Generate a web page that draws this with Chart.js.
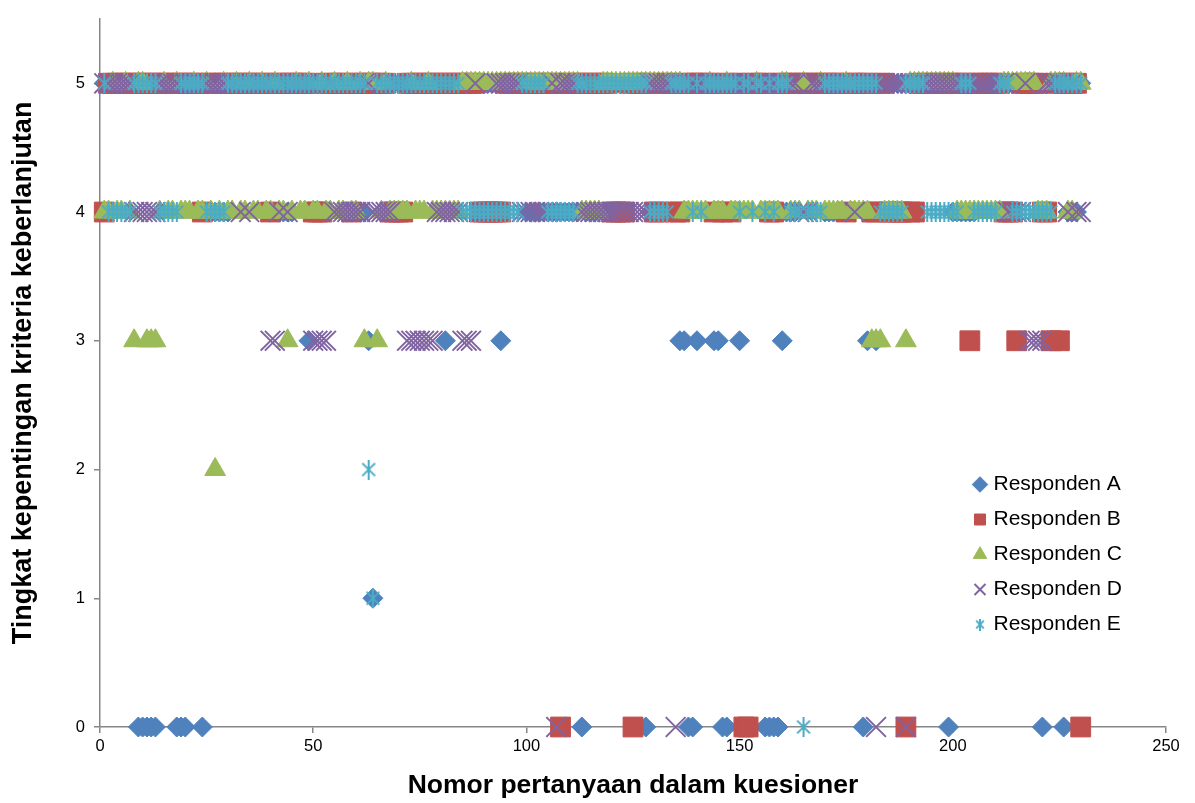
<!DOCTYPE html>
<html>
<head>
<meta charset="utf-8">
<script src="https://cdn.jsdelivr.net/npm/chart.js@4.4.1/dist/chart.umd.min.js"></script>
<style>
  html, body { margin: 0; padding: 0; background: #fff; }
  #wrap { width: 1195px; height: 803px; }
</style>
</head>
<body>
<div id="wrap"><canvas id="chart"></canvas></div>
<script>
// answer (0-5) of each respondent for questions 1..230, ten questions per group
const respondenA = [
  '5555555500', '0005555000', '5550444444', '5555555554', '4444455535',
  '5555555554', '4431544444', '5555555555', '3555555555', '5553555554',
  '4444444444', '4404445555', '5555555044', '4444433003', '5553300553',
  '5555500003', '4445555554', '4444455503', '5355555555', '5555555504',
  '4444455555', '5555555555', '0555504445'
];
const respondenB = [
  '4555555555', '5555555555', '5554555555', '5555555554', '5555555554',
  '4455555545', '5555555444', '4555555555', '5555555544', '4444555555',
  '5555555055', '5555555554', '4445055554', '4555445555', '5554545455',
  '0055554455', '5555555555', '5555455555', '4455444404', '4555555555',
  '5553555555', '5444355555', '4435355550'
];
const respondenC = [
  '4454454355', '3334544544', '4544542454', '4544544544', '5443454454',
  '4544544544', '5355345444', '4454445444', '4444555555', '5555555555',
  '5555555555', '5544444555', '5555555555', '5555554444', '4454445444',
  '4445444445', '5444544454', '4444544444', '3334444435', '5555555555',
  '4444444444', '4555555554', '4455554455'
];
const respondenD = [
  '5555555444', '4445555555', '5555555555', '5545455553', '3454555553',
  '3335444444', '4554444455', '5333333344', '4444333544', '4455555544',
  '4444450555', '5544444444', '4444444455', '5555055555', '5555555555',
  '5555555555', '5554445555', '5555554555', '5055555505', '5555555555',
  '5555555555', '5544445333', '3555554544'
];
const respondenE = [
  '5444444555', '5554444455', '5555444445', '5555555555', '5555555555',
  '5555555555', '5521555555', '5555555555', '5555444444', '4444444455',
  '5555444444', '4555555555', '5555555544', '4445555545', '4555555554',
  '5545545455', '5444044445', '5555555555', '5544444455', '5554444444',
  '4555444444', '5554444444', '4445555555'
];

const seriesNames = ['Responden A', 'Responden B', 'Responden C', 'Responden D', 'Responden E'];
const seriesColors = ['#4F81BD', '#C0504D', '#9BBB59', '#8064A2', '#4BACC6'];
const xTicks = [0, 50, 100, 150, 200, 250];
const yTicks = [0, 1, 2, 3, 4, 5];

function toPoints(groups) {
  return groups.join('').split('').map((d, i) => ({ x: i + 1, y: Number(d) }));
}

// excel style asterisk: X with a vertical bar
function asterisk(size, lw, color) {
  const c = document.createElement('canvas');
  c.width = size; c.height = size;
  const g = c.getContext('2d');
  g.strokeStyle = color;
  g.lineWidth = lw;
  const a = size * 0.18, b = size - a;
  g.beginPath();
  g.moveTo(size / 2, 0); g.lineTo(size / 2, size);
  g.moveTo(a, a); g.lineTo(b, b);
  g.moveTo(b, a); g.lineTo(a, b);
  g.stroke();
  return c;
}
const starBig = asterisk(20, 2, seriesColors[4]);
const starSmall = asterisk(12, 2, seriesColors[4]);

const answers = [respondenA, respondenB, respondenC, respondenD, respondenE];
const styles = [
  { pointStyle: 'rectRot', radius: 10, bw: 1 },
  { pointStyle: 'rect', radius: 14, bw: 1 },
  { pointStyle: 'triangle', radius: 12, bw: 1 },
  { pointStyle: 'crossRot', radius: 14, bw: 2 },
  { pointStyle: starBig, radius: 10, bw: 1 }
];

const datasets = answers.map((groups, i) => ({
  label: seriesNames[i],
  data: toPoints(groups),
  pointStyle: styles[i].pointStyle,
  pointRadius: styles[i].radius,
  pointHoverRadius: styles[i].radius,
  backgroundColor: seriesColors[i],
  borderColor: seriesColors[i],
  pointBorderWidth: styles[i].bw,
  borderWidth: styles[i].bw,
  showLine: false,
  clip: false,
  order: 4 - i   // last series drawn on top, like Excel
}));

const legendPlacer = {
  id: 'legendPlacer',
  afterLayout(chart) {
    const lg = chart.legend;
    const w = lg.width, h = lg.height;
    lg.left = 963; lg.top = 460;
    lg.right = lg.left + w; lg.bottom = lg.top + h;
  }
};

const axisGray = '#868686';
const font = 'Liberation Sans, Arial, sans-serif';

new Chart(document.getElementById('chart'), {
  type: 'scatter',
  data: { datasets },
  plugins: [legendPlacer],
  options: {
    responsive: true,
    maintainAspectRatio: false,
    animation: false,
    layout: { padding: { left: 0, right: 29, top: 11, bottom: 0 } },
    plugins: {
      tooltip: { enabled: false },
      legend: {
        position: 'chartArea',
        align: 'start',
        labels: {
          usePointStyle: true,
          boxWidth: 6,
          boxHeight: 11,
          padding: 14,
          color: '#000',
          font: { family: font, size: 21 },
          generateLabels(chart) {
            const items = Chart.defaults.plugins.legend.labels.generateLabels(chart);
            items.sort((a, b) => a.datasetIndex - b.datasetIndex);
            items.forEach(it => { if (it.datasetIndex === 4) it.pointStyle = starSmall; });
            return items;
          }
        }
      }
    },
    scales: {
      x: {
        type: 'linear',
        min: 0, max: 250,
        afterBuildTicks: s => { s.ticks = xTicks.map(v => ({ value: v })); },
        afterFit: s => { s.height = 76; },
        grid: { drawOnChartArea: false, drawTicks: true, tickLength: 6, color: axisGray, lineWidth: 1.5 },
        border: { color: axisGray, width: 1.5 },
        ticks: { color: '#000', padding: 4, font: { family: font, size: 16.5 } },
        title: {
          display: true,
          text: 'Nomor pertanyaan dalam kuesioner',
          color: '#000',
          font: { family: font, size: 26.5, weight: 'bold' },
          padding: { top: 0, bottom: 1 }
        }
      },
      y: {
        type: 'linear',
        min: 0, max: 5.5,
        afterBuildTicks: s => { s.ticks = yTicks.map(v => ({ value: v })); },
        afterFit: s => { s.width = 100; },
        grid: { drawOnChartArea: false, drawTicks: true, tickLength: 6, color: axisGray, lineWidth: 1.5 },
        border: { color: axisGray, width: 1.5 },
        ticks: { color: '#000', padding: 9, font: { family: font, size: 16.5 } },
        title: {
          display: true,
          text: 'Tingkat kepentingan kriteria keberlanjutan',
          color: '#000',
          font: { family: font, size: 27, weight: 'bold' },
          padding: { top: 7, bottom: 0 }
        }
      }
    }
  }
});
</script>
</body>
</html>
